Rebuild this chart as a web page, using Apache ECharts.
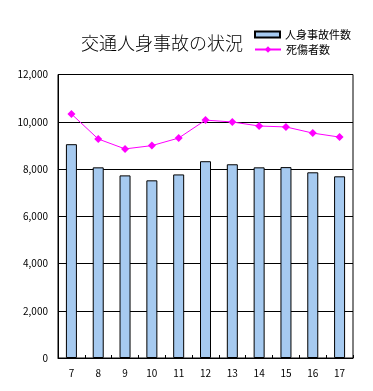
<!DOCTYPE html>
<html><head><meta charset="utf-8">
<script src="https://cdn.jsdelivr.net/npm/echarts@6/dist/echarts.min.js"></script>
<style>html,body{margin:0;padding:0;background:#fff}#c{width:373px;height:391px}</style>
</head><body><div id="c"></div>
<script>
const categories = ['7','8','9','10','11','12','13','14','15','16','17'];
const accidents = [9050, 8070, 7730, 7520, 7770, 8330, 8200, 8070, 8080, 7860, 7690];
const casualties = [10330, 9270, 8850, 8990, 9310, 10070, 9990, 9820, 9780, 9520, 9350];
const titleText = '交通人身事故の状況';
const accidentName = '人身事故件数';
const casualtyName = '死傷者数';

const font = '"Noto Sans CJK JP", sans-serif';
const chart = echarts.init(document.getElementById('c'), null, {renderer: 'canvas'});
chart.setOption({
  animation: false,
  backgroundColor: '#fff',
  title: {text: titleText, left: 76, top: 29, textStyle: {fontFamily: font, fontSize: 18, fontWeight: 300, color: '#000'}},
  legend: [
    {data: [{name: accidentName, icon: 'rect'}], left: 254, top: 29, itemWidth: 25, itemHeight: 6, padding: 0,
     textStyle: {fontFamily: font, fontSize: 11, color: '#000'}},
    {data: [casualtyName], left: 254, top: 44, itemWidth: 26, itemHeight: 8, padding: 0,
     textStyle: {fontFamily: font, fontSize: 11, color: '#000'}}
  ],
  grid: {left: 58, right: 20, top: 74.5, bottom: 33, show: true, borderColor: '#000', borderWidth: 1},
  xAxis: {
    type: 'category', data: categories,
    axisLine: {lineStyle: {color: '#000', width: 1}},
    axisTick: {show: true, inside: true, length: 3, lineStyle: {color: '#000'}},
    axisLabel: {color: '#000', fontFamily: font, fontSize: 10, margin: 10}
  },
  yAxis: {
    type: 'value', min: 0, max: 12000, interval: 2000,
    axisLine: {show: true, lineStyle: {color: '#000', width: 1}},
    axisTick: {show: false},
    splitLine: {lineStyle: {color: '#000', width: 1}},
    axisLabel: {color: '#000', fontFamily: font, fontSize: 10, margin: 10,
      formatter: v => v.toLocaleString('en-US')}
  },
  series: [
    {name: accidentName, type: 'bar', data: accidents, barWidth: 11,
     itemStyle: {color: '#A6CAF0', borderColor: '#000', borderWidth: 1}},
    {name: casualtyName, type: 'line', data: casualties, symbol: 'diamond', symbolSize: 8,
     lineStyle: {color: '#FF00FF', width: 1}, itemStyle: {color: '#FF00FF'}}
  ]
});
</script></body></html>
